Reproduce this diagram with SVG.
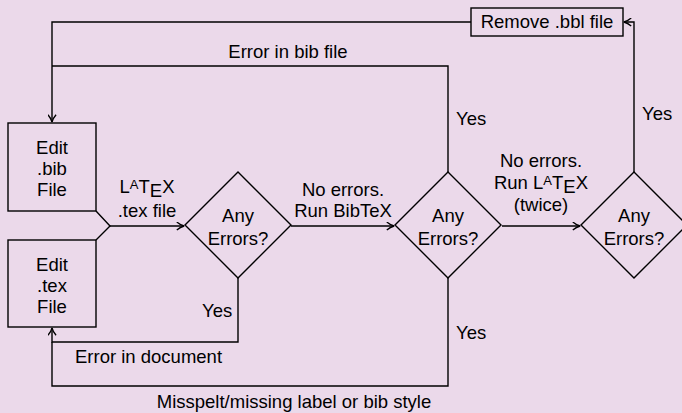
<svg xmlns="http://www.w3.org/2000/svg" width="682" height="413" viewBox="0 0 682 413">
<defs>
<style>
.n{fill:none;stroke:#000;stroke-width:1.4}
.c{fill:none;stroke:#000;stroke-width:1.4;marker-end:url(#ah)}
text{font-family:"Liberation Sans",Arial,sans-serif;font-size:18.5px;fill:#000}
.m{text-anchor:middle}
.sm{font-size:13px}
</style>
<marker id="ah" viewBox="0 0 10 10" refX="9" refY="5" markerWidth="9" markerHeight="9" markerUnits="userSpaceOnUse" orient="auto">
<path d="M1,0.5 Q5,4 9.2,5 Q5,6 1,9.5" fill="none" stroke="#000" stroke-width="1.5"/>
</marker>
</defs>
<rect width="682" height="413" fill="#ebd9ea"/>
<g id="connectors">
<path class="c" d="M471,22 H52 V122"/>
<path class="n" d="M448,172 V66 H52"/>
<path class="n" d="M96,211 L110,226 L96,240"/>
<path class="c" d="M110,226 H184"/>
<path class="c" d="M291,226 H394"/>
<path class="c" d="M502,226 H580"/>
<path class="c" d="M634,172 V22 H624"/>
<path class="c" d="M238,278 V342 H52 V328"/>
<path class="n" d="M448,278 V386 H52 V342"/>
</g>
<g id="edge-labels">
<text class="m" x="288" y="58">Error in bib file</text>
<text x="456" y="125">Yes</text>
<text x="642" y="120">Yes</text>
<text class="m" x="147" y="193">L<tspan class="sm" dy="-4">A</tspan><tspan dy="4">T</tspan><tspan dy="4">E</tspan><tspan dy="-4">X</tspan></text>
<text class="m" x="147" y="217">.tex file</text>
<text class="m" x="343" y="196">No errors.</text>
<text class="m" x="343" y="217">Run BibTeX</text>
<text class="m" x="541" y="167">No errors.</text>
<text class="m" x="541" y="189">Run L<tspan class="sm" dy="-4">A</tspan><tspan dy="4">T</tspan><tspan dy="4">E</tspan><tspan dy="-4">X</tspan></text>
<text class="m" x="541" y="211">(twice)</text>
<text x="202" y="317">Yes</text>
<text x="75" y="363">Error in document</text>
<text x="456" y="339">Yes</text>
<text class="m" x="294" y="408">Misspelt/missing label or bib style</text>
</g>
<g id="remove-bbl">
<rect class="n" x="471" y="8" width="152" height="28"/>
<text class="m" x="547" y="28">Remove .bbl file</text>
</g>
<g id="edit-bib">
<rect class="n" x="8" y="123" width="88" height="88"/>
<text class="m" x="52" y="154">Edit</text>
<text class="m" x="52" y="175">.bib</text>
<text class="m" x="52" y="196">File</text>
</g>
<g id="edit-tex">
<rect class="n" x="8" y="240" width="88" height="87"/>
<text class="m" x="52" y="271">Edit</text>
<text class="m" x="52" y="292">.tex</text>
<text class="m" x="52" y="313">File</text>
</g>
<g id="decision1">
<path class="n" d="M238,172 L291,225 L238,278 L185,225 Z"/>
<text class="m" x="238" y="222">Any</text>
<text class="m" x="238" y="245">Errors?</text>
</g>
<g id="decision2">
<path class="n" d="M448,172 L501,225 L448,278 L395,225 Z"/>
<text class="m" x="448" y="222">Any</text>
<text class="m" x="448" y="245">Errors?</text>
</g>
<g id="decision3">
<path class="n" d="M634,172 L687,225 L634,278 L581,225 Z"/>
<text class="m" x="634" y="222">Any</text>
<text class="m" x="634" y="245">Errors?</text>
</g>
</svg>
